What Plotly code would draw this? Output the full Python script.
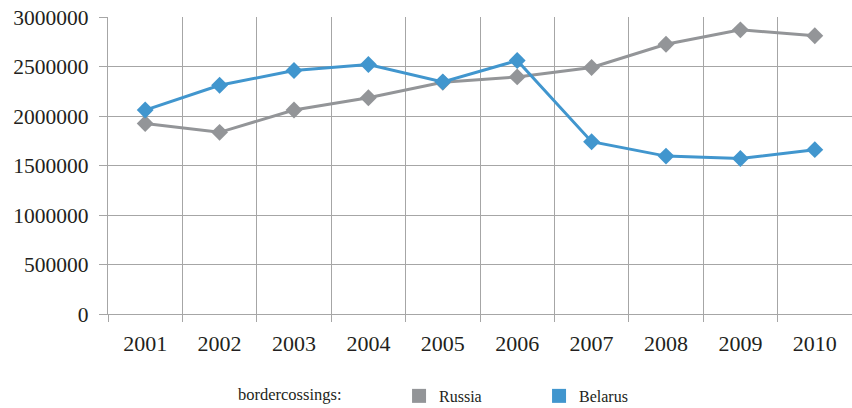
import plotly.graph_objects as go

years = ["2001", "2002", "2003", "2004", "2005", "2006", "2007", "2008", "2009", "2010"]
russia = [1925000, 1835000, 2060000, 2185000, 2340000, 2395000, 2490000, 2725000, 2870000, 2810000]
belarus = [2060000, 2310000, 2460000, 2520000, 2345000, 2560000, 1740000, 1595000, 1570000, 1660000]
y_ticks = [0, 500000, 1000000, 1500000, 2000000, 2500000, 3000000]

russia_color = "#939598"
belarus_color = "#4196CE"
grid_color = "#A6A6A6"
font_family = "Liberation Serif, DejaVu Serif, serif"

fig = go.Figure()
fig.add_trace(go.Scatter(x=years, y=russia, mode="lines+markers", name="Russia",
                         line=dict(color=russia_color, width=3),
                         marker=dict(symbol="diamond", size=13, color=russia_color),
                         showlegend=False, cliponaxis=False))
fig.add_trace(go.Scatter(x=years, y=belarus, mode="lines+markers", name="Belarus",
                         line=dict(color=belarus_color, width=3),
                         marker=dict(symbol="diamond", size=13, color=belarus_color),
                         showlegend=False, cliponaxis=False))
# legend-only square swatches
fig.add_trace(go.Scatter(x=[None], y=[None], mode="markers", name="Russia",
                         marker=dict(symbol="square", size=14, color=russia_color)))
fig.add_trace(go.Scatter(x=[None], y=[None], mode="markers", name="Belarus",
                         marker=dict(symbol="square", size=14, color=belarus_color)))

fig.update_layout(
    width=852, height=408,
    margin=dict(l=108, r=0, t=17, b=94, autoexpand=False),
    paper_bgcolor="white", plot_bgcolor="white",
    font=dict(family=font_family, color="#231F20"),
    legend=dict(orientation="h", x=0.172, xanchor="left", y=-0.276, yanchor="middle",
                title=dict(text="bordercossings:" + "\u00a0" * 12, side="left",
                           font=dict(size=16.5, family=font_family)),
                font=dict(size=16, family=font_family),
                entrywidth=95, entrywidthmode="pixels",
                itemwidth=30),
)
fig.update_xaxes(type="category", tickson="boundaries", showgrid=True, gridcolor=grid_color,
                 gridwidth=1.3, ticks="outside", ticklen=7, tickcolor=grid_color,
                 showline=True, linecolor=grid_color, linewidth=1.3, automargin=False,
                 ticklabelstandoff=9, ticklabeloverflow="allow",
                 tickfont=dict(size=22, family=font_family), range=[-0.5, 9.5])
fig.update_yaxes(range=[0, 3000000], tickvals=y_ticks, ticktext=[str(v) for v in y_ticks],
                 showgrid=True, gridcolor=grid_color, gridwidth=1.3,
                 ticks="outside", ticklen=8, tickcolor=grid_color, automargin=False,
                 ticklabelstandoff=6, ticklabeloverflow="allow",
                 showline=True, linecolor=grid_color, linewidth=1.3, zeroline=False,
                 tickfont=dict(size=21.5, family=font_family))

fig.write_html("out.html", config={"displayModeBar": False},
               post_script="document.body.style.margin='0';")
